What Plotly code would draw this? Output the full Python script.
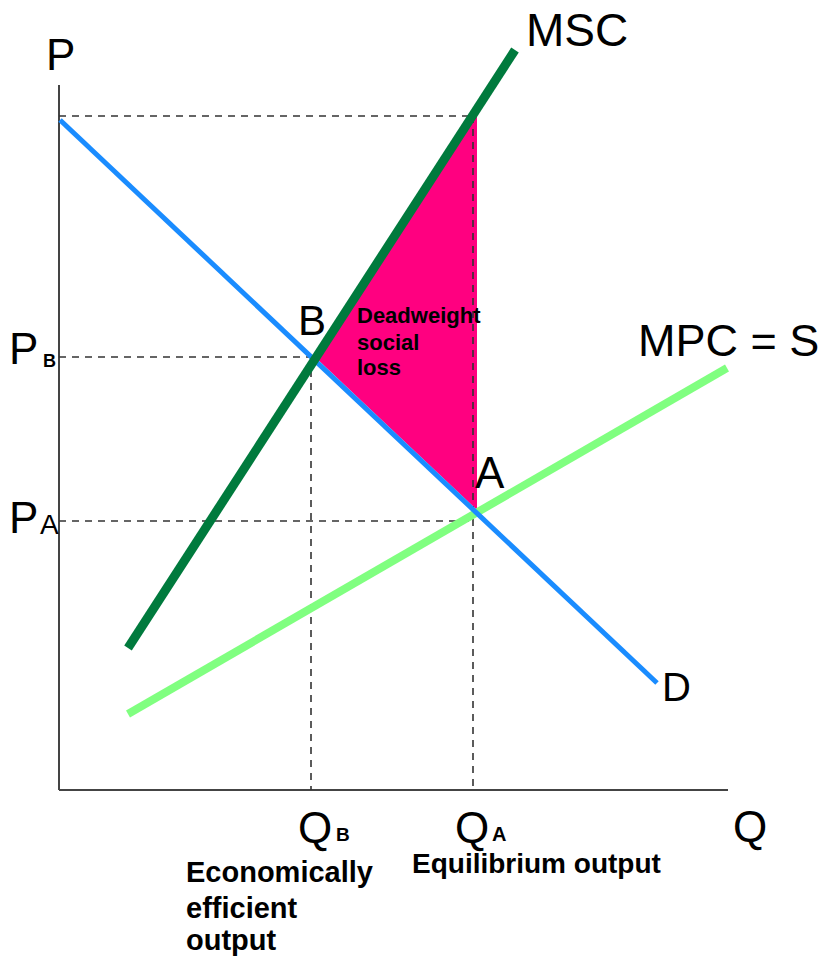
import plotly.graph_objects as go

# ---- data (units: quantity Q, price P) ----
demand_q = [0.1, 59.8]
demand_p = [67.0, 10.7]
msc_q = [6.9, 45.6]
msc_p = [14.2, 74.0]
mpc_q = [6.9, 66.8]
mpc_p = [7.6, 42.2]

QB, QA = 25.2, 41.4
PA, PB, P_TOP = 26.9, 43.3, 67.4

dwl_q = [25.6, 41.8, 41.8]
dwl_p = [43.3, 67.6, 28.0]

axis_q_max = 66.9
axis_p_max = 70.5

FONT = "Liberation Sans, Arial, Helvetica, sans-serif"

fig = go.Figure()

# deadweight loss triangle
fig.add_trace(go.Scatter(x=dwl_q + [dwl_q[0]], y=dwl_p + [dwl_p[0]], fill="toself",
                         fillcolor="#ff0080", line=dict(width=0), mode="lines",
                         hoverinfo="skip"))

# axes
fig.add_trace(go.Scatter(x=[0, 0], y=[axis_p_max, 0], mode="lines",
                         line=dict(color="#444444", width=2), hoverinfo="skip"))
fig.add_trace(go.Scatter(x=[0, axis_q_max], y=[0, 0], mode="lines",
                         line=dict(color="#444444", width=2), hoverinfo="skip"))

# dashed guides
dash = dict(color="#333333", width=1.6, dash="7px,6px")
for (xs, ys) in [([0, QA], [P_TOP, P_TOP]), ([0, QB], [PB, PB]), ([0, QA], [PA, PA]),
                 ([QB, QB], [PB, 0]), ([QA, QA], [P_TOP, 0])]:
    fig.add_trace(go.Scatter(x=xs, y=ys, mode="lines", line=dash, hoverinfo="skip"))

# curves
fig.add_trace(go.Scatter(x=mpc_q, y=mpc_p, mode="lines",
                         line=dict(color="#80ff80", width=8), hoverinfo="skip"))
fig.add_trace(go.Scatter(x=demand_q, y=demand_p, mode="lines",
                         line=dict(color="#1a8cff", width=5), hoverinfo="skip"))
fig.add_trace(go.Scatter(x=msc_q, y=msc_p, mode="lines",
                         line=dict(color="#007a3d", width=9), hoverinfo="skip"))

def lab(x, y, text, size, xanchor="center", bold=False, pad=1):
    t = f"<b>{text}</b>" if bold else text
    fig.add_annotation(x=x, y=y, text=t, showarrow=False, xanchor=xanchor,
                       yanchor="middle", borderpad=pad,
                       font=dict(family=FONT, size=size, color="black"))

lab(0.1, 73.6, "P", 44)
lab(51.8, 76.0, "MSC", 46)
lab(76.2, 45.0, "MPC = S", 45, xanchor="right")
lab(61.7, 10.3, "D", 40)
lab(69.1, -3.6, "Q", 44)
lab(25.3, 47.0, "B", 42)
lab(43.1, 31.8, "A", 44)

lab(-3.6, 44.2, "P", 44)
lab(-1.0, 42.9, "B", 18, bold=True)
lab(-3.6, 27.3, "P", 44)
lab(-1.0, 26.6, "A", 28)
lab(25.6, -3.7, "Q", 44, pad=0)
lab(28.4, -4.4, "B", 19, bold=True, pad=0)
lab(41.3, -3.7, "Q", 44, pad=0)
lab(44.0, -4.4, "A", 20, bold=True, pad=0)

lab(47.7, -7.3, "Equilibrium output", 28, bold=True, pad=0)
lab(12.6, -8.2, "Economically", 29, xanchor="left", bold=True, pad=0)
lab(12.6, -11.8, "efficient", 29, xanchor="left", bold=True, pad=0)
lab(12.6, -15.0, "output", 29, xanchor="left", bold=True, pad=0)

lab(29.7, 47.5, "Deadweight", 22, xanchor="left", bold=True, pad=0)
lab(29.7, 44.8, "social", 22, xanchor="left", bold=True, pad=0)
lab(29.7, 42.3, "loss", 22, xanchor="left", bold=True, pad=0)

fig.update_layout(
    width=825, height=966, margin=dict(l=0, r=0, t=0, b=0),
    paper_bgcolor="white", plot_bgcolor="white", showlegend=False,
    xaxis=dict(range=[-5.9, 76.6], visible=False, fixedrange=True),
    yaxis=dict(range=[-17.6, 79.0], visible=False, fixedrange=True),
)

fig.write_html("out.html", config={"displayModeBar": False},
               post_script="document.body.style.margin='0px';document.body.style.overflow='hidden';")
